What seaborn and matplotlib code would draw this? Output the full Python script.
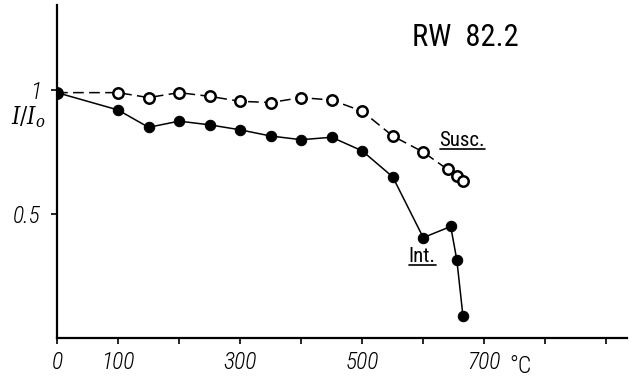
import matplotlib
matplotlib.use("Agg")
import matplotlib.pyplot as plt
from matplotlib import font_manager
from matplotlib.lines import Line2D
import seaborn as sns

# Werte (RW 82.2, thermische Entmagnetisierung)
temp_susc = [0, 100, 150, 200, 250, 300, 350, 400, 450, 500, 550, 600, 640, 655, 665]
susc = [0.99, 0.99, 0.97, 0.99, 0.975, 0.955, 0.95, 0.97, 0.96, 0.915, 0.815, 0.75, 0.68, 0.655, 0.635]

temp_int = [0, 100, 150, 200, 250, 300, 350, 400, 450, 500, 550, 600, 645, 655, 665]
intensitaet = [0.99, 0.92, 0.85, 0.875, 0.86, 0.84, 0.815, 0.80, 0.81, 0.755, 0.65, 0.405, 0.45, 0.315, 0.09]

x_ticks = [0, 100, 200, 300, 400, 500, 600, 700, 800, 900]
x_labels = ["0", "100", "", "300", "", "500", "", "700", "", ""]
y_ticks = [0.5, 1.0]
y_labels = ["0.5", "1"]

sns.set_style("white")

# schmale Schrift wie im Original, falls vorhanden
namen = {f.name for f in font_manager.fontManager.ttflist}
kandidaten = ["Liberation Sans Narrow", "Roboto Condensed", "DejaVu Sans Condensed",
              "Open Sans Condensed", "Noto Sans Condensed"]
schmal = [n for n in kandidaten if n in namen]
plt.rcParams["font.family"] = schmal + ["DejaVu Sans"]
plt.rcParams["font.stretch"] = "condensed"
plt.rcParams["mathtext.fontset"] = "dejavuserif"
plt.rcParams["text.color"] = "black"
plt.rcParams["axes.labelcolor"] = "black"

fig = plt.figure(figsize=(6.37, 3.80), dpi=100)
ax = fig.add_axes([0.0895, 0.1105, 0.895, 0.876])

sns.lineplot(x=temp_susc, y=susc, ax=ax, color="black", linestyle=(0, (7, 3.5)),
             linewidth=1.1, marker="o", markersize=7.5, markerfacecolor="white",
             markeredgecolor="black", markeredgewidth=1.8, zorder=3)
sns.lineplot(x=temp_int, y=intensitaet, ax=ax, color="black", linewidth=1.1,
             marker="o", markersize=7.5, markerfacecolor="black",
             markeredgecolor="black", zorder=4)

ax.set_xlim(0, 934)
ax.set_ylim(0, 1.343)
sns.despine(ax=ax)
for s in ("left", "bottom"):
    ax.spines[s].set_linewidth(1.6)
    ax.spines[s].set_color("black")

ax.set_xticks(x_ticks)
ax.set_xticklabels(x_labels, fontsize=17, style="italic", fontweight="light")
ax.set_yticks(y_ticks)
ax.set_yticklabels(y_labels, fontsize=17, style="italic", fontweight="light")
ax.tick_params(axis="both", direction="out", length=4.5, width=1.2, color="black",
               labelcolor="black", pad=5, bottom=True, left=True)
ax.tick_params(axis="y", pad=7)

ax.set_ylabel(r"$I/I_o$", rotation=0, fontsize=17)
ax.yaxis.set_label_coords(-0.05, 0.625)

grad = ax.text(760, 0, "°C", transform=ax.get_xaxis_transform(), fontsize=17,
               ha="center", va="top", fontweight="light")
grad.set_y(-0.05)
ax.text(669, 1.214, "RW  82.2", fontsize=22, ha="center", va="center")

etiketten = [
    ax.text(664, 0.795, "Susc.", fontsize=15, ha="center", va="center"),
    ax.text(598, 0.327, "Int.", fontsize=15, ha="center", va="center"),
]

# Unterstreichung unter den Kurvenbeschriftungen
fig.canvas.draw()
renderer = fig.canvas.get_renderer()
for t in etiketten:
    bb = t.get_window_extent(renderer).transformed(fig.transFigure.inverted())
    y_linie = bb.y0 + 0.004
    fig.add_artist(Line2D([bb.x0, bb.x1], [y_linie, y_linie],
                          color="black", linewidth=1.2, transform=fig.transFigure))

fig.savefig("out.png", dpi=100)
plt.close(fig)
